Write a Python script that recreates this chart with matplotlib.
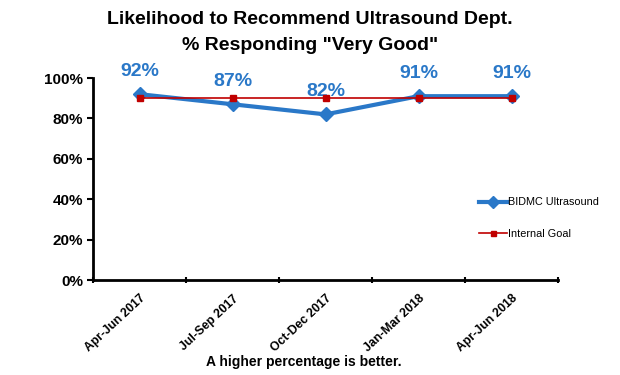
import matplotlib
matplotlib.use("Agg")
import matplotlib.pyplot as plt

plt.rcParams['font.family'] = ['Liberation Sans', 'DejaVu Sans']

# data
quarters = ["Apr-Jun 2017", "Jul-Sep 2017", "Oct-Dec 2017", "Jan-Mar 2018", "Apr-Jun 2018"]
ultrasound = [92, 87, 82, 91, 91]
goal = [90, 90, 90, 90, 90]

blue = "#2a78c8"
red = "#c00000"

fig = plt.figure(figsize=(6.2, 3.75), dpi=100)
ax = fig.add_axes([0.15, 0.253, 0.75, 0.539])

x = [i + 0.5 for i in range(len(quarters))]
ax.plot(x, ultrasound, color=blue, lw=3, marker="D", ms=7.5, label="BIDMC Ultrasound", zorder=3)
ax.plot(x, goal, color=red, lw=1.2, marker="s", ms=4.5, label="Internal Goal", zorder=4)

for xi, v in zip(x, ultrasound):
    ax.annotate(f"{v}%", (xi, v), xytext=(0, 10), textcoords="offset points",
                ha="center", va="bottom", color=blue, fontsize=14, fontweight="bold")

ax.set_xlim(0, len(quarters))
ax.set_ylim(0, 100)
ax.set_yticks(range(0, 101, 20))
ax.set_yticklabels([f"{t}%" for t in range(0, 101, 20)], fontsize=11, fontweight="bold")
ax.set_xticks(range(len(quarters) + 1))
ax.set_xticklabels([])
ax.set_xticks(x, minor=True)
ax.set_xticklabels(quarters, minor=True, rotation=43, ha="right", rotation_mode="anchor",
                   fontsize=8.8, fontweight="bold")
ax.tick_params(axis="x", which="minor", length=0, pad=9)
ax.tick_params(axis="x", which="major", width=1.5, length=4, direction="inout")
ax.tick_params(axis="y", which="major", width=1.5, length=4, direction="out", pad=3)
for s in ["top", "right"]:
    ax.spines[s].set_visible(False)
for s in ["left", "bottom"]:
    ax.spines[s].set_linewidth(2)

fig.text(0.5, 1 - 20 / 375, "Likelihood to Recommend Ultrasound Dept.", ha="center", va="center",
         fontsize=14, fontweight="bold")
fig.text(0.5, 1 - 45 / 375, "% Responding \"Very Good\"", ha="center", va="center",
         fontsize=14, fontweight="bold")
fig.text(0.49, 1 - 362 / 375, "A higher percentage is better.", ha="center", va="center",
         fontsize=10, fontweight="bold")

fig.legend(loc="center left", bbox_to_anchor=(0.757, 0.418), frameon=False, fontsize=7.8,
           handlelength=2.6, labelspacing=2.0, handletextpad=0.1, markerscale=0.8)

fig.savefig("out.png", dpi=100)
